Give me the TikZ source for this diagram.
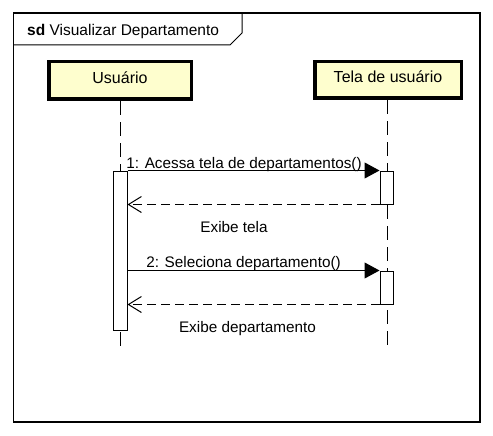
\documentclass[tikz,border=0pt]{standalone}
\usepackage{fontspec}
\setmainfont{Liberation Sans}
\usetikzlibrary{arrows.meta,positioning}
\definecolor{partfill}{HTML}{FEFECE}

\tikzset{
  participant/.style={rectangle, draw=black, line width=3.5pt, fill=partfill,
    text height=11.5pt, text depth=5.5pt, font=\fontsize{16}{19}\selectfont},
  actbar/.style={rectangle, draw=black, fill=white, line width=1pt,
    inner sep=0pt, minimum width=13pt},
  lifeline/.style={line width=1pt, dash pattern=on 14pt off 7pt},
  call/.style={line width=1pt, -{Triangle[length=15pt,width=16pt]}},
  reply/.style={line width=1pt, dash pattern=on 9pt off 5pt,
    -{Straight Barb[length=13pt,width=16pt,line width=1pt]}},
  msgtext/.style={anchor=base, inner sep=0pt, font=\fontsize{15.3}{18}\selectfont}
}

\begin{document}
\begin{tikzpicture}[x=1pt,y=-1pt]
\useasboundingbox (0,0) rectangle (493,436);

% Frame and title tab
\draw[line width=1.5pt] (13.5,13) rectangle (480,422);
\draw[line width=1pt] (13.5,45) -- (230,45) -- (242,33) -- (242,13);
\node[anchor=base west, inner sep=0pt, font=\fontsize{15.5}{18}\selectfont] (title) at (27,36) {\textbf{sd} Visualizar Departamento};

% Participants
\node[participant, minimum width=142.5pt, minimum height=37.5pt] (user) at (120,80.5) {Usuário};
\node[participant, minimum width=146.5pt, minimum height=36.5pt] (tela) at (388,80) {Tela de usuário};

% Lifelines
\coordinate (userend) at (120,350);
\coordinate (telaend) at (387,350);
\draw[lifeline] (user.south) -- (userend);
\draw[lifeline] (tela.south -| telaend) -- (telaend);

% Activation bars
\node[actbar, minimum width=14pt, minimum height=159pt] (ua) at (120,250.5) {};
\node[actbar, minimum height=33pt] (t1) at (386.5,187.5) {};
\node[actbar, minimum height=33pt] (t2) at (386.5,287.5) {};

% Messages
\draw[call] (ua.north east) -- (t1.north west);
\draw[reply] (t1.south west) -- (ua.east |- t1.south west);
\draw[call] (ua.east |- t2.north west) -- (t2.north west);
\draw[reply] (t2.south west) -- (ua.east |- t2.south west);

% Labels
\node[msgtext] (m1) at (244,168) {1: Acessa tela de departamentos()};
\node[msgtext] (r1) at (234,232) {Exibe tela};
\node[msgtext] (m2) at (243.5,267) {2: Seleciona departamento()};
\node[msgtext] (r2) at (247.5,332) {Exibe departamento};

\end{tikzpicture}
\end{document}
